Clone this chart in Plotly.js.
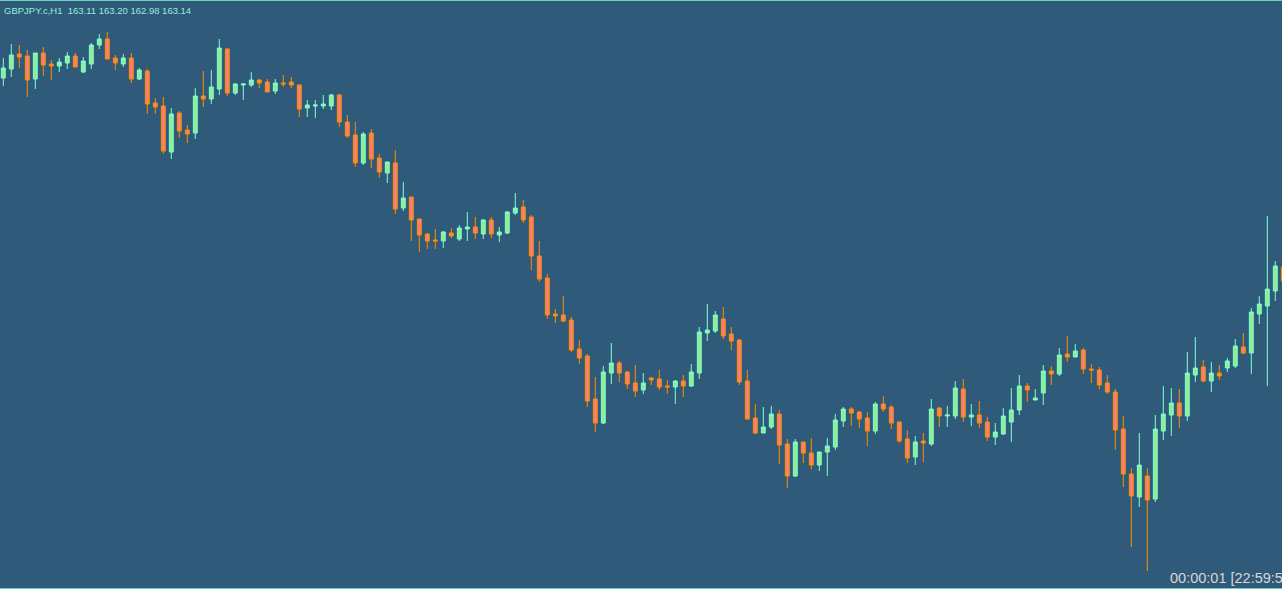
<!DOCTYPE html>
<html>
<head>
<meta charset="utf-8">
<script src="https://cdn.plot.ly/plotly-3.0.1.min.js"></script>
<style>
  html, body { margin: 0; padding: 0; background: #2F5A7A; overflow: hidden; }
  #chart { width: 1282px; height: 589px; }
</style>
</head>
<body>
<div id="chart"></div>
<script>
// GBPJPY.c H1 bars (oldest -> newest)
const openP = [
  165.02,165.11,165.26,165.24,165.01,165.27,165.16,165.14,165.17,165.24,
  165.08,165.16,165.35,165.41,165.22,165.16,165.22,165.01,165.09,164.77,
  164.74,164.28,164.67,164.50,164.47,164.84,164.81,164.91,165.31,164.87,
  164.95,164.95,165.00,164.98,164.89,164.97,164.98,164.95,164.72,164.74,
  164.74,164.74,164.85,164.58,164.45,164.17,164.47,164.22,164.07,164.17,
  163.72,163.83,163.61,163.46,163.40,163.39,163.47,163.41,163.51,163.53,
  163.46,163.60,163.45,163.47,163.67,163.73,163.63,163.24,163.02,162.66,
  162.65,162.60,162.31,162.24,161.81,161.57,162.07,162.17,162.08,161.97,
  161.90,162.02,162.01,161.94,161.93,161.99,161.94,162.07,162.47,162.49,
  162.61,162.46,162.40,161.99,161.62,161.47,161.53,161.66,161.36,161.04,
  161.38,161.27,161.15,161.28,161.33,161.59,161.71,161.68,161.62,161.49,
  161.76,161.73,161.58,161.41,161.23,161.39,161.36,161.72,161.64,161.64,
  161.91,161.63,161.65,161.58,161.43,161.46,161.58,161.70,161.94,161.80,
  161.87,162.09,162.06,162.26,162.23,162.30,162.11,162.10,161.97,161.88,
  161.51,161.06,160.83,161.04,160.81,161.49,161.65,161.77,161.64,162.05,
  162.13,161.99,162.07,162.12,162.14,162.33,162.27,162.66,162.74,162.89,
  163.13
];
const highP = [
  165.22,165.36,165.35,165.30,165.27,165.33,165.20,165.22,165.28,165.27,
  165.23,165.37,165.46,165.48,165.25,165.26,165.27,165.12,165.11,164.82,
  164.83,164.72,164.69,164.55,164.92,165.09,165.10,165.41,165.32,164.97,
  164.97,165.08,165.01,165.01,165.01,165.05,165.03,164.96,164.80,164.80,
  164.85,164.86,164.86,164.65,164.58,164.48,164.51,164.26,164.18,164.30,
  163.98,163.83,163.61,163.47,163.51,163.49,163.52,163.55,163.68,163.63,
  163.61,163.63,163.53,163.69,163.87,163.80,163.65,163.39,163.06,162.71,
  162.84,162.63,162.40,162.26,162.03,162.14,162.37,162.19,162.09,162.15,
  162.07,162.03,162.10,162.00,162.00,162.05,162.16,162.53,162.76,162.69,
  162.73,162.53,162.41,162.10,161.76,161.73,161.74,161.70,161.41,161.41,
  161.38,161.42,161.28,161.42,161.66,161.73,161.73,161.69,161.68,161.78,
  161.84,161.75,161.58,161.50,161.44,161.47,161.81,161.73,161.74,161.99,
  162.01,161.76,161.79,161.63,161.57,161.72,161.92,162.05,161.97,161.91,
  162.15,162.14,162.32,162.44,162.36,162.32,162.16,162.13,162.05,161.91,
  161.64,161.12,161.47,161.12,161.65,161.94,161.92,161.91,162.28,162.43,
  162.20,162.18,162.15,162.22,162.41,162.47,162.72,162.84,163.64,163.19,
  163.18
];
const lowP = [
  164.94,165.03,165.12,164.83,164.91,165.04,165.00,165.08,165.11,165.13,
  165.07,165.11,165.31,165.21,165.10,165.13,164.97,165.00,164.66,164.66,
  164.26,164.21,164.42,164.37,164.41,164.73,164.76,164.85,164.84,164.85,
  164.80,164.93,164.92,164.88,164.86,164.93,164.92,164.63,164.63,164.62,
  164.71,164.70,164.53,164.42,164.13,164.15,164.12,164.02,163.97,163.66,
  163.69,163.39,163.28,163.31,163.31,163.32,163.42,163.39,163.39,163.41,
  163.41,163.42,163.38,163.46,163.65,163.57,163.10,162.98,162.61,162.57,
  162.58,162.28,162.16,161.73,161.48,161.56,161.96,161.98,161.91,161.83,
  161.86,161.95,161.90,161.86,161.76,161.83,161.93,162.01,162.39,162.47,
  162.41,162.30,161.95,161.60,161.46,161.47,161.51,161.16,160.92,161.03,
  161.17,161.11,161.09,161.04,161.30,161.53,161.54,161.52,161.34,161.46,
  161.68,161.51,161.37,161.17,161.15,161.18,161.34,161.53,161.53,161.61,
  161.58,161.54,161.52,161.39,161.35,161.45,161.38,161.65,161.78,161.80,
  161.75,161.95,162.04,162.18,162.23,162.06,161.97,161.91,161.86,161.30,
  160.93,160.33,160.73,160.09,160.78,161.40,161.44,161.52,161.59,161.98,
  161.98,161.88,162.00,162.08,162.12,162.26,162.06,162.56,161.94,162.79,
  162.90
];
const closeP = [
  165.12,165.25,165.23,165.00,165.27,165.15,165.14,165.18,165.24,165.13,
  165.19,165.35,165.41,165.21,165.17,165.22,165.01,165.10,164.76,164.73,
  164.29,164.66,164.49,164.46,164.84,164.81,164.93,165.32,164.87,164.96,
  164.96,165.00,164.97,164.88,164.97,164.96,164.95,164.71,164.75,164.75,
  164.76,164.85,164.58,164.44,164.17,164.46,164.21,164.08,164.18,163.71,
  163.82,163.60,163.45,163.39,163.39,163.48,163.44,163.52,163.53,163.47,
  163.60,163.46,163.48,163.68,163.72,163.60,163.24,163.01,162.65,162.64,
  162.59,162.30,162.22,161.79,161.57,162.08,162.17,162.07,161.96,161.89,
  161.97,162.00,161.93,161.93,161.99,161.94,162.08,162.48,162.50,162.65,
  162.44,162.39,161.98,161.61,161.47,161.53,161.66,161.35,161.04,161.38,
  161.27,161.15,161.28,161.34,161.60,161.71,161.67,161.61,161.49,161.76,
  161.71,161.57,161.39,161.22,161.38,161.37,161.71,161.64,161.65,161.92,
  161.63,161.65,161.57,161.43,161.48,161.64,161.70,161.94,161.90,161.82,
  162.09,162.06,162.25,162.23,162.29,162.11,162.10,161.95,161.88,161.50,
  161.06,160.84,161.15,160.80,161.51,161.66,161.77,161.64,162.07,162.12,
  161.99,162.07,162.04,162.19,162.34,162.27,162.68,162.76,162.91,163.14,
  162.99
];
const barIndex = openP.map((_, i) => i);

const symbolLabel = "GBPJPY.c,H1";
const headerQuote = ["163.11", "163.20", "162.98", "163.14"];
const timerLabel = "00:00:01 [22:59:59]";

const bg = "#2F5A7A";

const trace = {
  type: "candlestick",
  x: barIndex,
  open: openP, high: highP, low: lowP, close: closeP,
  increasing: { line: { color: "#7FFFD4", width: 1 }, fillcolor: "#90EE90" },
  decreasing: { line: { color: "#FF8C00", width: 1 }, fillcolor: "#FA8072" },
  whiskerwidth: 0,
  hoverinfo: "skip"
};

const W = 1282, H = 589;
const pxPerBar = 8, firstBarPx = 3.3;
const x0 = -firstBarPx / pxPerBar;
const x1 = x0 + W / pxPerBar;
const yTop = 165.80, yBot = yTop - H * 0.01;

const layout = {
  width: W, height: H,
  margin: { l: 0, r: 0, t: 0, b: 0, pad: 0 },
  paper_bgcolor: bg, plot_bgcolor: bg,
  showlegend: false,
  dragmode: false,
  hovermode: false,
  xaxis: { range: [x0, x1], visible: false, showgrid: false, zeroline: false,
           rangeslider: { visible: false }, fixedrange: true },
  yaxis: { range: [yBot, yTop], visible: false, showgrid: false, zeroline: false, fixedrange: true },
  shapes: [
    { type: "line", xref: "paper", yref: "paper", x0: 0, x1: 1, y0: 1, y1: 1,
      line: { color: "#7FFFD4", width: 1.5 } },
    { type: "line", xref: "paper", yref: "paper", x0: 0, x1: 1, y0: 0, y1: 0,
      line: { color: "#7FFFD4", width: 1.5 } }
  ],
  annotations: [
    { xref: "paper", yref: "paper", x: 2 / W, y: 1 - 3 / H, xanchor: "left", yanchor: "top",
      showarrow: false, align: "left",
      text: symbolLabel + "  " + headerQuote.join(" "),
      font: { family: "Liberation Sans, Arial, sans-serif", size: 9.5, color: "#8FEFD8" } },
    { xref: "paper", yref: "paper", x: 1168 / W, y: 11 / H, xanchor: "left", yanchor: "middle",
      showarrow: false, align: "left",
      text: timerLabel,
      font: { family: "Liberation Sans, Arial, sans-serif", size: 14.5, color: "#D8D8D8" } }
  ]
};

Plotly.newPlot("chart", [trace], layout, { displayModeBar: false, staticPlot: true });
</script>
</body>
</html>
